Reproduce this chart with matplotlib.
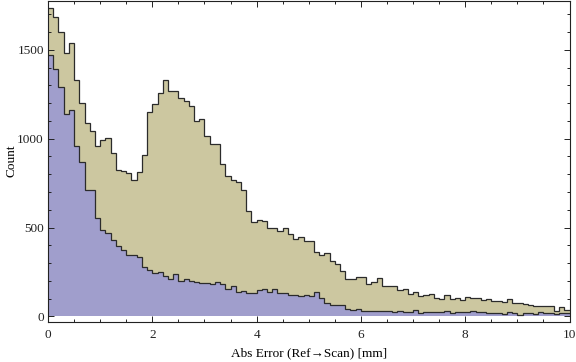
import numpy as np
import matplotlib.pyplot as plt
from matplotlib.ticker import MultipleLocator

# --- Data (counts per 0.1 mm bin) ---
BIN_WIDTH = 0.1

all_counts = [
    1734, 1686, 1603, 1485, 1541, 1330, 1202, 1086, 1041, 959,
    993, 1004, 918, 824, 817, 805, 768, 813, 907, 1150,
    1197, 1258, 1331, 1269, 1269, 1230, 1211, 1187, 1099, 1110,
    1013, 968, 968, 860, 792, 766, 758, 710, 595, 534,
    545, 539, 500, 500, 478, 500, 461, 438, 444, 427,
    427, 365, 348, 354, 309, 292, 253, 208, 208, 219,
    219, 182, 191, 214, 169, 169, 169, 147, 153, 124,
    135, 112, 120, 127, 101, 96, 119, 98, 106, 92,
    107, 103, 103, 93, 95, 86, 86, 80, 95, 76,
    74, 70, 64, 61, 59, 59, 57, 33, 50, 38,
]

subset_counts = [
    1472, 1392, 1292, 1139, 1161, 961, 867, 712, 712, 551,
    487, 468, 431, 397, 375, 347, 347, 337, 277, 262,
    243, 247, 230, 213, 241, 198, 208, 197, 191, 186,
    186, 181, 191, 180, 152, 170, 135, 144, 131, 129,
    146, 152, 135, 152, 129, 129, 118, 118, 114, 123,
    114, 135, 101, 73, 62, 62, 62, 39, 34, 39,
    28, 30, 30, 30, 30, 30, 24, 30, 22, 22,
    36, 19, 26, 26, 24, 24, 28, 20, 24, 22,
    22, 32, 24, 26, 19, 20, 17, 11, 22, 20,
    9, 20, 17, 11, 22, 17, 17, 11, 17, 17,
]

x_label = "Abs Error (Ref\u2192Scan) [mm]"
y_label = "Count"

TAN = "#ccc7a0"
BLUE = "#a09ecc"
EDGE = "#2b2b2b"

plt.rcParams['font.family'] = ['Liberation Serif', 'DejaVu Serif']

edges = np.arange(len(all_counts) + 1) * BIN_WIDTH

fig = plt.figure(figsize=(5.76, 3.62), dpi=100)
ax = fig.add_axes([48 / 576, 1 - 321.7 / 362, 521.5 / 576, 321.0 / 362])

ax.stairs(all_counts, edges, fill=True, facecolor=TAN, edgecolor="none")
ax.stairs(all_counts, edges, baseline=None, color=EDGE, lw=0.9)
ax.stairs(subset_counts, edges, fill=True, facecolor=BLUE, edgecolor="none")
ax.stairs(subset_counts, edges, baseline=None, color=EDGE, lw=0.9)

ax.set_xlim(0, 10)
ax.set_ylim(-30, 1777)

ax.xaxis.set_major_locator(MultipleLocator(2))
ax.xaxis.set_minor_locator(MultipleLocator(0.5))
ax.yaxis.set_major_locator(MultipleLocator(500))
ax.yaxis.set_minor_locator(MultipleLocator(100))
ax.tick_params(which="both", direction="in", top=True, right=True,
               colors="#222222", labelsize=9.5, width=0.7)
ax.tick_params(which="major", length=4.5)
ax.tick_params(which="minor", length=2.5)
ax.tick_params(axis="x", pad=5)
ax.tick_params(axis="y", pad=3)

for s in ax.spines.values():
    s.set_linewidth(0.8)
    s.set_color("#222222")

ax.set_xlabel(x_label, fontsize=9.5, labelpad=5)
ax.set_ylabel(y_label, fontsize=9.5)
ax.yaxis.set_label_coords(-0.0594, 0.5)

fig.savefig("out.png", dpi=100)
